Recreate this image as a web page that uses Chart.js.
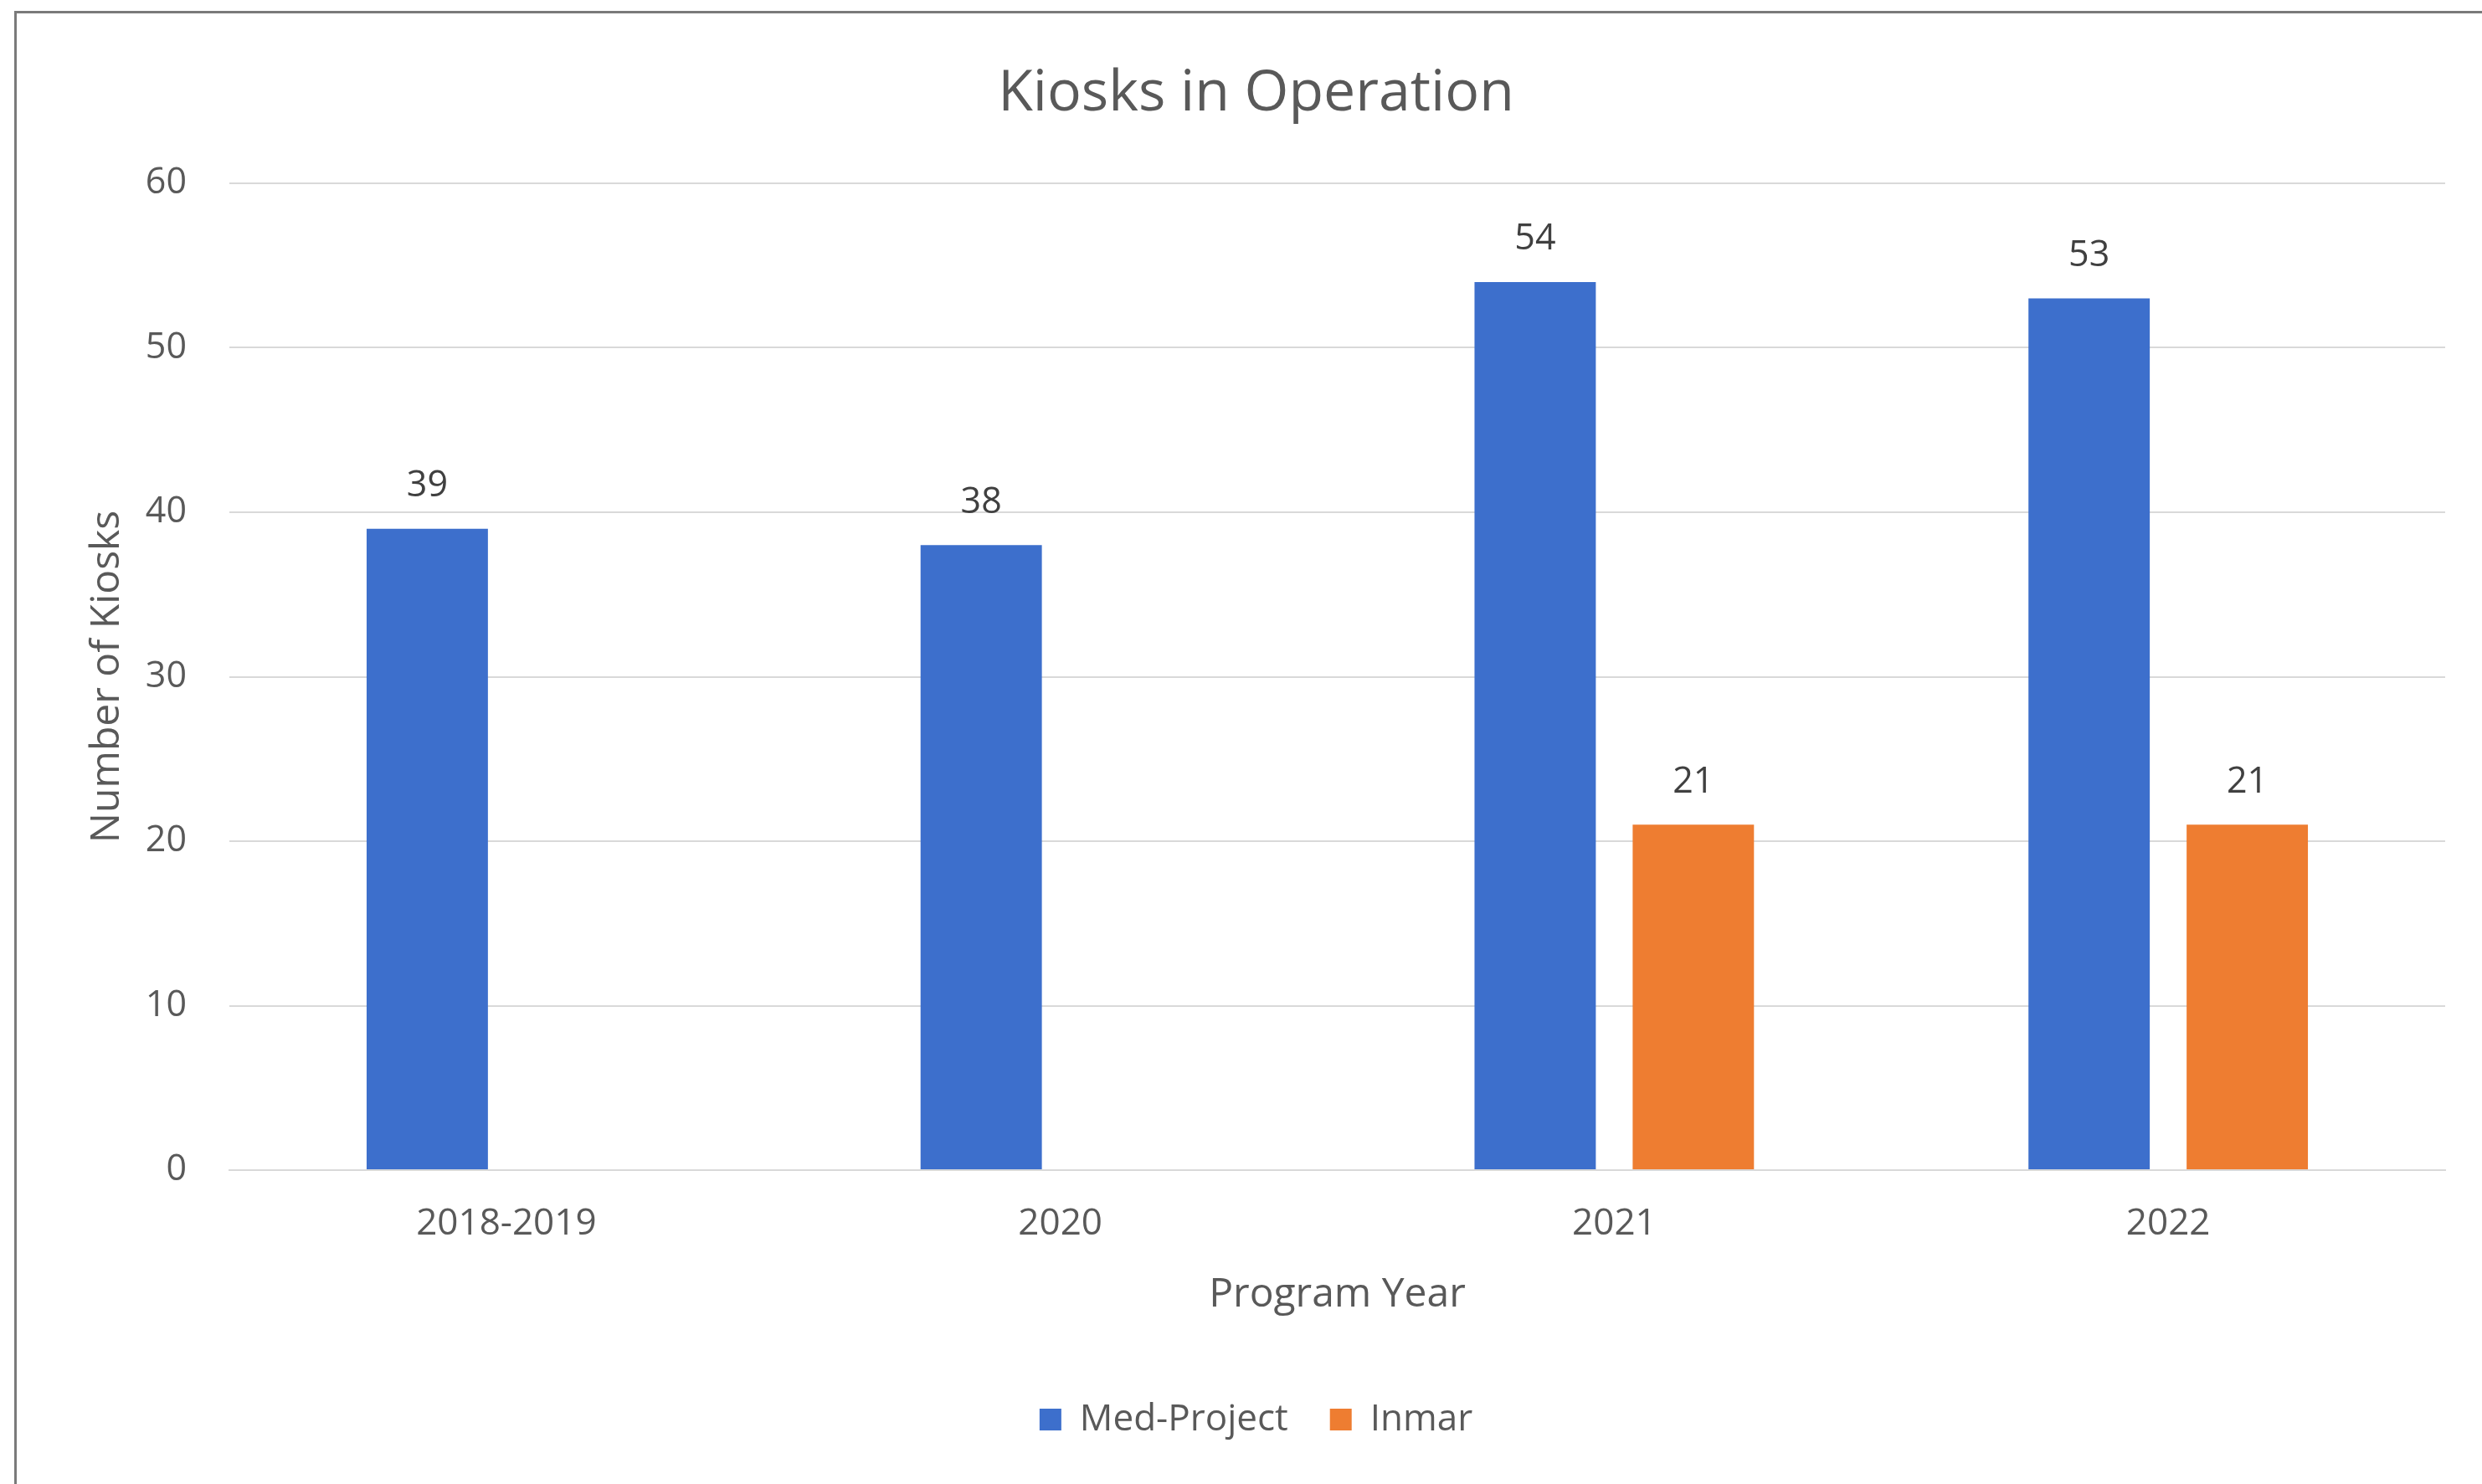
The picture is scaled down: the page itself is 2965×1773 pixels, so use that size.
<!DOCTYPE html>
<html>
<head>
<meta charset="utf-8">
<script src="https://cdn.jsdelivr.net/npm/chart.js@4"></script>
<style>
  html, body { margin: 0; padding: 0; background: #ffffff; }
  #c { display: block; }
</style>
</head>
<body>
<canvas id="c" width="2965" height="1773"></canvas>
<script>
// ---- data ----
const categories = ["2018-2019", "2020", "2021", "2022"];
const medProject = [39, 38, 54, 53];
const inmar = [null, null, 21, 21];
const seriesNames = ["Med-Project", "Inmar"];
const yTicks = [0, 10, 20, 30, 40, 50, 60];

const FONT = "'Open Sans', 'Noto Sans', sans-serif";
const TEXT = "#595959";

const borderPlugin = {
  id: 'frame',
  beforeDraw(chart) {
    const ctx = chart.ctx;
    ctx.save();
    ctx.fillStyle = '#ffffff';
    ctx.fillRect(0, 0, chart.width, chart.height);
    ctx.strokeStyle = '#7a7a7a';
    ctx.lineWidth = 3;
    ctx.beginPath();
    ctx.moveTo(18.5, chart.height);
    ctx.lineTo(18.5, 14.5);
    ctx.lineTo(chart.width, 14.5);
    ctx.stroke();
    ctx.restore();
  }
};

const valueLabels = {
  id: 'valueLabels',
  afterDatasetsDraw(chart) {
    const ctx = chart.ctx;
    ctx.save();
    ctx.font = "43px " + FONT;
    ctx.fillStyle = '#404040';
    ctx.textAlign = 'center';
    ctx.textBaseline = 'middle';
    chart.data.datasets.forEach((ds, di) => {
      const meta = chart.getDatasetMeta(di);
      meta.data.forEach((bar, i) => {
        const v = ds.data[i];
        if (v === null || v === undefined) return;
        ctx.fillText(String(v), bar.x, bar.y - 51);
      });
    });
    ctx.restore();
  }
};

new Chart(document.getElementById('c'), {
  type: 'bar',
  data: {
    labels: categories,
    datasets: [
      { label: seriesNames[0], data: medProject, backgroundColor: '#3D6FCC', borderWidth: 0 },
      { label: seriesNames[1], data: inmar, backgroundColor: '#EE7D31', borderWidth: 0 }
    ]
  },
  options: {
    responsive: false,
    animation: false,
    devicePixelRatio: 1,
    categoryPercentage: 0.571,
    barPercentage: 0.767,
    layout: { padding: { left: 80, right: 44, top: 0, bottom: 45 } },
    plugins: {
      title: {
        display: true,
        text: 'Kiosks in Operation',
        color: TEXT,
        font: { family: FONT, size: 68, weight: 'normal' },
        padding: { top: 72, bottom: 65.4 }
      },
      legend: {
        display: true,
        position: 'bottom',
        labels: {
          color: TEXT,
          font: { family: FONT, size: 44 },
          boxWidth: 26,
          boxHeight: 26,
          padding: 50
        }
      },
      tooltip: { enabled: false }
    },
    scales: {
      x: {
        grid: { display: false, drawTicks: false },
        border: { display: true, color: '#d9d9d9', width: 2 },
        ticks: { color: TEXT, font: { family: FONT, size: 44 }, padding: 38, maxRotation: 0 },
        title: {
          display: true, text: 'Program Year', color: TEXT,
          font: { family: FONT, size: 48 }, padding: { top: 0, bottom: 48 }
        },
        afterFit(scale) { scale.height = 226; }
      },
      y: {
        min: 0, max: 60,
        afterBuildTicks(scale) { scale.ticks = yTicks.map(v => ({ value: v })); },
        grid: { color: '#d9d9d9', lineWidth: 2, drawTicks: false },
        border: { display: false },
        ticks: { color: TEXT, font: { family: FONT, size: 43 }, padding: 51 },
        title: {
          display: true, text: 'Number of Kiosks', color: TEXT,
          font: { family: FONT, size: 48 }, padding: { top: 20, bottom: 0 }
        },
        afterFit(scale) { scale.width = 194; }
      }
    }
  },
  plugins: [borderPlugin, valueLabels]
});
</script>
</body>
</html>
